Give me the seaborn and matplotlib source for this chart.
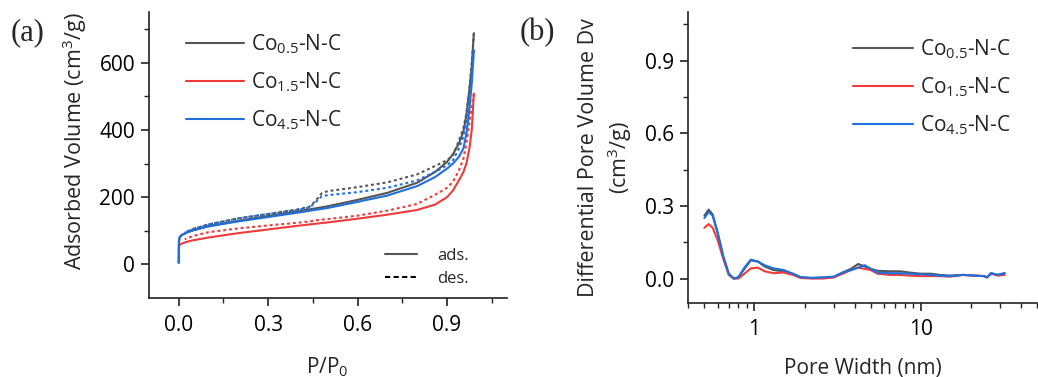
import numpy as np
import pandas as pd
import matplotlib
matplotlib.use("Agg")
import matplotlib.pyplot as plt
from matplotlib.lines import Line2D
from matplotlib.ticker import LogLocator, NullFormatter, FixedLocator
import seaborn as sns

# ---- N2 sorption isotherms -------------------------------------------------
samples = ["Co$_{0.5}$-N-C", "Co$_{1.5}$-N-C", "Co$_{4.5}$-N-C"]
colors = ["#555555", "#EF3B3B", "#1F6FDC"]

p_ads = [0.0, 0.0005, 0.003, 0.01, 0.03, 0.05, 0.1, 0.2, 0.3, 0.4, 0.5, 0.6,
         0.7, 0.8, 0.86, 0.9, 0.92, 0.94, 0.955, 0.965, 0.975, 0.983, 0.99]
v_ads_co05 = [5, 65, 80, 87, 96, 102, 114, 130, 144, 158, 173, 192,
              213, 243, 275, 305, 328, 360, 395, 445, 520, 590, 688]
v_ads_co15 = [5, 50, 58, 62, 68, 72, 80, 93, 104, 115, 125, 136,
              148, 162, 178, 200, 220, 250, 275, 300, 345, 400, 508]
v_ads_co45 = [5, 68, 82, 88, 96, 102, 113, 128, 141, 154, 168, 186,
              205, 233, 260, 285, 300, 320, 345, 390, 460, 540, 637]

p_des = [0.99, 0.983, 0.975, 0.965, 0.955, 0.94, 0.92, 0.9, 0.87, 0.8, 0.7,
         0.6, 0.5, 0.48, 0.46, 0.44, 0.4, 0.3, 0.2, 0.1, 0.05, 0.02]
v_des_co05 = [688, 600, 520, 450, 405, 369, 325, 310, 297, 268, 244,
              230, 218, 212, 190, 172, 164, 150, 137, 119, 106, 95]
v_des_co15 = [508, 470, 420, 360, 315, 280, 246, 228, 212, 180, 160,
              145, 135, 133, 131, 128, 124, 116, 107, 96, 85, 75]
v_des_co45 = [637, 570, 500, 430, 380, 345, 310, 295, 280, 250, 228,
              215, 206, 203, 186, 170, 162, 150, 137, 119, 106, 95]

# ---- pore size distribution -------------------------------------------------
pore_width = [0.50, 0.53, 0.56, 0.60, 0.65, 0.70, 0.75, 0.80, 0.87, 0.95,
              1.05, 1.15, 1.3, 1.5, 1.7, 1.9, 2.2, 2.6, 3.0, 3.4, 3.8, 4.2,
              4.6, 5.0, 5.5, 6.5, 7.5, 8.5, 10, 11.5, 13, 15, 18, 21, 24, 25,
              26.5, 29, 32]
dv_co05 = [0.26, 0.285, 0.265, 0.19, 0.09, 0.02, 0.0, 0.005, 0.04, 0.075,
           0.07, 0.05, 0.035, 0.03, 0.02, 0.005, 0.002, 0.003, 0.005, 0.025,
           0.04, 0.06, 0.05, 0.04, 0.032, 0.03, 0.03, 0.025, 0.02, 0.02,
           0.015, 0.012, 0.015, 0.012, 0.01, 0.005, 0.022, 0.015, 0.022]
dv_co15 = [0.21, 0.225, 0.21, 0.16, 0.08, 0.015, 0.0, 0.0, 0.02, 0.042,
           0.045, 0.03, 0.022, 0.025, 0.015, 0.002, 0.0, 0.0, 0.005, 0.02,
           0.035, 0.045, 0.04, 0.035, 0.02, 0.015, 0.015, 0.012, 0.01, 0.01,
           0.01, 0.008, 0.015, 0.012, 0.01, 0.005, 0.02, 0.012, 0.015]
dv_co45 = [0.25, 0.275, 0.26, 0.19, 0.09, 0.02, 0.0, 0.005, 0.045, 0.078,
           0.07, 0.055, 0.042, 0.035, 0.02, 0.005, 0.003, 0.005, 0.008, 0.025,
           0.035, 0.045, 0.055, 0.04, 0.025, 0.022, 0.022, 0.02, 0.018, 0.015,
           0.012, 0.01, 0.015, 0.012, 0.01, 0.005, 0.022, 0.015, 0.022]

sns.set_style("ticks")
plt.rcParams["font.family"] = ["Open Sans", "DejaVu Sans"]
plt.rcParams["mathtext.fontset"] = "custom"
plt.rcParams["mathtext.rm"] = "Open Sans"
plt.rcParams["mathtext.it"] = "Open Sans:italic"
plt.rcParams["mathtext.default"] = "regular"
plt.rcParams["axes.linewidth"] = 1.2
plt.rcParams["axes.edgecolor"] = "#222222"

FS = 15
FS_Y = 15.5
LW = 1.5

fig = plt.figure(figsize=(10.38, 3.77), dpi=100)
ax1 = fig.add_axes([0.1435, 0.2095, 0.3446, 0.7579])
ax2 = fig.add_axes([0.6631, 0.197, 0.3359, 0.7703])

ads_sets = [v_ads_co05, v_ads_co15, v_ads_co45]
des_sets = [v_des_co05, v_des_co15, v_des_co45]
for name, col, va, vd in zip(samples, colors, ads_sets, des_sets):
    sns.lineplot(x=p_ads, y=va, ax=ax1, color=col, lw=LW, sort=False,
                 estimator=None, label=name)
    sns.lineplot(x=p_des, y=vd, ax=ax1, color=col, lw=LW, sort=False,
                 estimator=None, linestyle=(0, (1.4, 1.4)))

for name, col, dv in zip(samples, colors, [dv_co05, dv_co15, dv_co45]):
    sns.lineplot(x=pore_width, y=dv, ax=ax2, color=col, lw=LW, sort=False,
                 estimator=None, label=name)

# axis (a)
ax1.set_xlim(-0.1, 1.1)
ax1.set_ylim(-100, 750)
ax1.xaxis.set_major_locator(FixedLocator([0.0, 0.3, 0.6, 0.9]))
ax1.xaxis.set_minor_locator(FixedLocator([0.15, 0.45, 0.75, 1.05]))
ax1.yaxis.set_major_locator(FixedLocator([0, 200, 400, 600]))
ax1.yaxis.set_minor_locator(FixedLocator([100, 300, 500, 700]))
ax1.set_xticklabels(["0.0", "0.3", "0.6", "0.9"])
ax1.set_xlabel("P/P$_0$", fontsize=FS)
ax1.set_ylabel("Adsorbed Volume (cm$^3$/g)", fontsize=FS_Y)
ax1.xaxis.set_label_coords(0.5, -0.20)
ax1.yaxis.set_label_coords(-0.168, 0.548)

# axis (b)
ax2.set_xscale("log")
ax2.set_xlim(0.4, 50)
ax2.set_ylim(-0.1, 1.1)
ax2.xaxis.set_major_locator(FixedLocator([1, 10]))
ax2.set_xticklabels(["1", "10"])
ax2.xaxis.set_minor_locator(LogLocator(base=10, subs=np.arange(2, 10)))
ax2.xaxis.set_minor_formatter(NullFormatter())
ax2.yaxis.set_major_locator(FixedLocator([0.0, 0.3, 0.6, 0.9]))
ax2.yaxis.set_minor_locator(FixedLocator([0.15, 0.45, 0.75, 1.05]))
ax2.set_yticklabels(["0.0", "0.3", "0.6", "0.9"])
ax2.set_xlabel("Pore Width (nm)", fontsize=FS)
ax2.set_ylabel("Differential Pore Volume Dv\n(cm$^3$/g)", fontsize=FS_Y,
               linespacing=1.3)
ax2.xaxis.set_label_coords(0.5, -0.19)
ax2.yaxis.set_label_coords(-0.156, 0.5)

for ax in (ax1, ax2):
    sns.despine(ax=ax)
    ax.tick_params(which="major", direction="out", length=6, width=1.2,
                   labelsize=FS, colors="#222222", labelcolor="black")
    ax.tick_params(which="minor", direction="out", length=3.5, width=1.0,
                   colors="#222222")
    ax.tick_params(axis="x", which="major", pad=6)
    ax.tick_params(axis="y", which="major", pad=4)

# sample legends
leg1 = ax1.legend(loc="upper left", bbox_to_anchor=(0.103, 0.93),
                  frameon=False, fontsize=FS, handlelength=2.8,
                  handletextpad=0.35, labelspacing=0.69, borderpad=0,
                  borderaxespad=0)
ax1.add_artist(leg1)
ax2.legend(loc="upper left", bbox_to_anchor=(0.472, 0.913), frameon=False,
           fontsize=FS, handlelength=2.9, handletextpad=0.3,
           labelspacing=0.69, borderpad=0, borderaxespad=0)

# branch legend
branch = [Line2D([], [], color="#555555", lw=LW),
          Line2D([], [], color="black", lw=LW, linestyle=(0, (2.5, 1.6)))]
ax1.legend(branch, ["ads.", "des."], loc="upper left",
           bbox_to_anchor=(0.66, 0.174), frameon=False, fontsize=12,
           handlelength=1.9, handletextpad=1.25, labelspacing=0.42,
           borderpad=0, borderaxespad=0)

fig.text(0.027, 0.914, "(a)", fontsize=22, family=["Liberation Serif"],
         ha="center", va="center")
fig.text(0.518, 0.914, "(b)", fontsize=22, family=["Liberation Serif"],
         ha="center", va="center")

fig.savefig("out.png", dpi=100)
